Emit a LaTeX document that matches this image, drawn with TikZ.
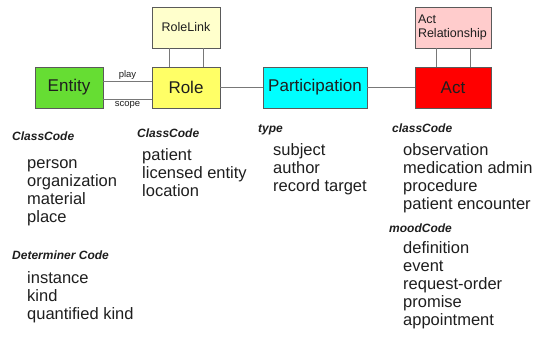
\documentclass[tikz,border=0pt]{standalone}
\usepackage{fontspec}
\setmainfont{Liberation Sans}
\usepackage{tikz}

\definecolor{entitygreen}{RGB}{102,221,51}
\definecolor{roleyellow}{RGB}{255,255,102}
\definecolor{linkyellow}{RGB}{255,255,204}
\definecolor{partcyan}{RGB}{0,255,255}
\definecolor{actred}{RGB}{255,0,0}
\definecolor{relpink}{RGB}{255,204,204}
\definecolor{boxgray}{RGB}{90,90,90}
\definecolor{linegray}{RGB}{120,120,120}
\definecolor{textdark}{RGB}{30,30,30}

\tikzset{
  box/.style={shape=rectangle,draw=boxgray,line width=0.8pt,minimum height=41pt,inner sep=2pt,text=textdark,font=\fontsize{17}{20}\selectfont},
  smallbox/.style={box,font=\fontsize{12.5}{14.5}\selectfont},
  link/.style={draw=linegray,line width=1pt},
  linklabel/.style={text=textdark,inner sep=1.5pt,font=\fontsize{9.5}{11}\selectfont},
  head/.style={anchor=base west,inner sep=0pt,text=textdark,font=\fontsize{12}{14}\selectfont\bfseries\itshape},
  % base of a list node is the baseline of its last line
  codes/.style={anchor=base west,inner sep=0pt,align=left,text=textdark,font=\fontsize{16.5}{18}\selectfont},
}

\begin{document}
\begin{tikzpicture}[x=1pt,y=-1pt]
\useasboundingbox (0,0) rectangle (538,341);
\node[box,fill=entitygreen,minimum width=68pt] (entity) at (69,87.5) {Entity};
\node[box,fill=roleyellow,minimum width=68pt] (role) at (186,87.5) {Role};
\node[smallbox,fill=linkyellow,minimum width=68pt] (rolelink) at (186,27.5) {RoleLink};
\node[box,fill=partcyan,minimum width=104pt] (participation) at (315,87.5) {Participation};
\node[box,fill=actred,minimum width=76pt] (act) at (453,87.5) {Act};
\node[smallbox,fill=relpink,minimum width=76pt,text width=70pt,align=left] (actrel) at (453,27.5) {Act\\Relationship};
\path ([yshift=6.5pt]entity.east) edge[link] node[linklabel,above] {play} ([yshift=6.5pt]role.west);
\path ([yshift=-11.5pt]entity.east) edge[link] node[linklabel,below] {scope} ([yshift=-11.5pt]role.west);
\path ([xshift=-17pt]rolelink.south) edge[link] ([xshift=-17pt]role.north);
\path ([xshift=17pt]rolelink.south) edge[link] ([xshift=17pt]role.north);
\path (role) edge[link] (participation);
\path (participation) edge[link] (act);
\path ([xshift=-17pt]actrel.south) edge[link] ([xshift=-17pt]act.north);
\path ([xshift=17pt]actrel.south) edge[link] ([xshift=17pt]act.north);
% code lists
\node[head] (entityhead) at (12,140) {ClassCode};
\node[codes] (entitycodes) at (27,222) {person\\organization\\material\\place};
\node[head] (dethead) at (12,259) {Determiner Code};
\node[codes] (detcodes) at (27,319) {instance\\kind\\quantified kind};
\node[head] (rolehead) at (137,137) {ClassCode};
\node[codes] (rolecodes) at (142,196) {patient\\licensed entity\\location};
\node[head] (typehead) at (258,132) {type};
\node[codes] (typecodes) at (273,191) {subject\\author\\record target};
\node[head] (acthead) at (392,132) {classCode};
\node[codes] (actcodes) at (403,209) {observation\\medication admin\\procedure\\patient encounter};
\node[head] (moodhead) at (389,232) {moodCode};
\node[codes] (moodcodes) at (403,325) {definition\\event\\request-order\\promise\\appointment};
\end{tikzpicture}
\end{document}
